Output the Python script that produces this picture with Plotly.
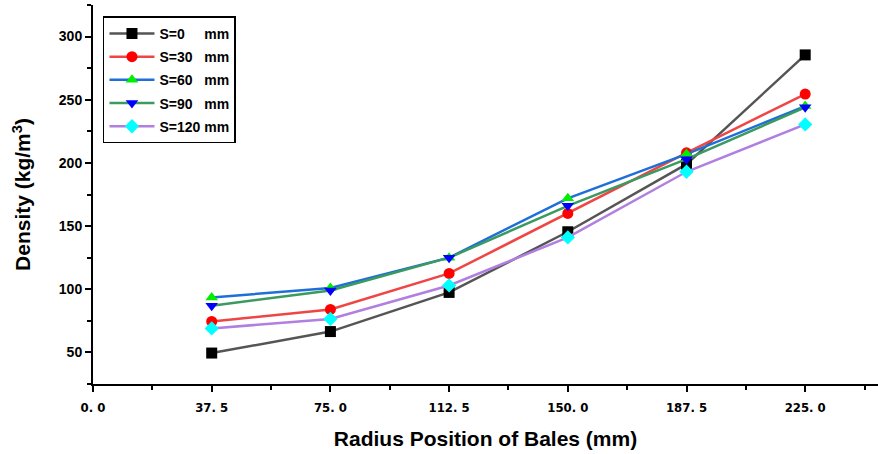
import plotly.graph_objects as go

radius = [37.5, 75.0, 112.5, 150.0, 187.5, 225.0]
s0 = [49.5, 66.5, 97.5, 145.5, 199, 285.5]
s30 = [74.5, 84, 112.5, 160, 208, 254.5]
s60 = [93.5, 101, 125, 172, 207, 245]
s90 = [87, 99, 125, 166, 203, 244]
s120 = [69, 76.5, 103, 141, 193, 230.5]
names = ["S=0\u00a0\u00a0\u00a0\u00a0\u00a0mm", "S=30\u00a0\u00a0\u00a0mm", "S=60\u00a0\u00a0\u00a0mm",
         "S=90\u00a0\u00a0\u00a0mm", "S=120\u00a0mm"]
x_ticks = [0, 37.5, 75, 112.5, 150, 187.5, 225]
x_labels = ["0. 0", "37. 5", "75. 0", "112. 5", "150. 0", "187. 5", "225. 0"]
y_ticks = [50, 100, 150, 200, 250, 300]

styles = [
    dict(line="#555555", marker="#000000", symbol="square"),
    dict(line="#f04545", marker="#ff0000", symbol="circle"),
    dict(line="#1f6fd8", marker="#00ee00", symbol="triangle-up"),
    dict(line="#3a9a60", marker="#0000ff", symbol="triangle-down"),
    dict(line="#b07fe0", marker="#00ffff", symbol="diamond"),
]

fig = go.Figure()
for i, (name, ys, st) in enumerate(zip(names, [s0, s30, s60, s90, s120], styles)):
    fig.add_trace(go.Scatter(
        x=radius, y=ys, name=name, mode="lines+markers", legendgroup=f"g{i}",
        line=dict(color=st["line"], width=2.5),
        marker=dict(color=st["marker"], symbol=st["symbol"], size=11, line=dict(width=0)),
    ))

font_family = "Liberation Sans, Arial, sans-serif"
fig.update_layout(
    width=878, height=454,
    margin=dict(l=93, r=0, t=5, b=70),
    plot_bgcolor="white", paper_bgcolor="white",
    font=dict(family=font_family, color="black"),
    showlegend=True,
    legend=dict(
        x=0.0127, y=0.97, xanchor="left", yanchor="top",
        bordercolor="black", borderwidth=1.5, bgcolor="white",
        font=dict(size=14, family=font_family, weight="bold"),
        tracegroupgap=2, itemwidth=45,
    ),
    xaxis=dict(
        range=[0, 248], tickmode="array", tickvals=x_ticks, ticktext=x_labels,
        automargin=False,
        showgrid=False, zeroline=False, showline=True, linecolor="black", linewidth=2,
        ticks="outside", ticklen=6, tickwidth=2, tickcolor="black",
        minor=dict(dtick=18.75, tick0=0, ticks="outside", ticklen=4, tickwidth=1.5, tickcolor="black"),
        ticklabelstandoff=4,
        tickfont=dict(size=13, family="Liberation Sans Narrow, DejaVu Sans Condensed, Liberation Sans", weight="bold"),
        title=dict(text="Radius Position of Bales (mm)", font=dict(size=21, weight="bold"), standoff=18),
    ),
    yaxis=dict(
        range=[25, 325], tickmode="array", tickvals=y_ticks,
        automargin=False,
        showgrid=False, zeroline=False, showline=True, linecolor="black", linewidth=2,
        ticks="outside", ticklen=6, tickwidth=2, tickcolor="black",
        minor=dict(dtick=25, tick0=0, ticks="outside", ticklen=4, tickwidth=1.5, tickcolor="black"),
        tickfont=dict(size=14, family="Liberation Sans Narrow, Liberation Sans", weight="bold"),
        title=dict(text="Density (kg/m<sup>3</sup>)", font=dict(size=21, weight="bold"), standoff=22),
    ),
)

fig.write_html("out.html", config={"displayModeBar": False},
               post_script="document.body.style.margin='0';")
